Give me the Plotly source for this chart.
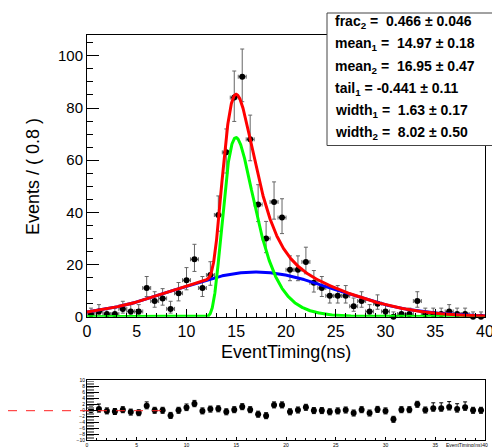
import numpy as np
import plotly.graph_objects as go

# ---------------- data ----------------
bin_width = 0.8
bin_centers = [0.4, 1.2, 2.0, 2.8, 3.6, 4.4, 5.2, 6.0, 6.8, 7.6,
               8.4, 9.2, 10.0, 10.8, 11.6, 12.4, 13.2, 14.0, 14.8, 15.6,
               16.4, 17.2, 18.0, 18.8, 19.6, 20.4, 21.2, 22.0, 22.8, 23.6,
               24.4, 25.2, 26.0, 26.8, 27.6, 28.4, 29.2, 30.0, 30.8, 31.6,
               32.4, 33.2, 34.0, 34.8, 35.6, 36.4, 37.2, 38.0, 38.8, 39.6]
counts = [1, 2, 1, 1, 3, 2, 2, 11, 6, 7,
          3, 9, 14, 22, 11, 16, 39, 63, 84, 92,
          68, 43, 30, 44, 38, 18, 18, 21, 13, 11,
          8, 8, 8, 4, 6, 2, 5, 2, 0, 1,
          1, 6, 1, 1, 1, 2, 1, 1, 0, 0]

pulls = [0.0, 0.3, -0.3, -0.5, 0.1, -0.7, -0.9, 1.4, -0.1, -0.1,
         -1.8, -0.1, 0.8, 2.1, -0.3, 0.3, 0.4, -0.6, 0.1, 1.1,
         0.1, -1.4, -1.9, 1.7, 1.7, -0.6, 0.0, 0.9, -0.2, -0.2,
         -0.6, -0.3, 0.0, -1.0, 0.1, -1.0, 0.2, -0.3, -3.1, 0.1,
         0.1, 1.9, 0.0, 0.6, 0.6, 1.0, 0.3, 0.9, -0.1, -0.1]
pull_err_hi = [1.0, 1.7, 1.0, 1.0, 1.0, 1.0, 1.0, 1.3, 1.0, 1.0,
               1.0, 1.0, 1.2, 1.1, 1.0, 1.0, 1.0, 1.0, 1.0, 1.0,
               1.0, 1.0, 1.0, 1.0, 1.0, 1.0, 1.0, 1.0, 1.0, 1.0,
               1.0, 1.0, 1.0, 1.0, 1.0, 1.0, 1.0, 1.0, 1.0, 1.0,
               1.0, 1.0, 1.0, 1.8, 1.8, 1.8, 1.8, 1.8, 1.0, 1.0]

# fit parameters (as shown in the box)
frac2 = 0.466
mean1 = 14.97
mean2 = 16.95
tail1 = -0.441
width1 = 1.63
width2 = 8.02
n_events = 790          # curve normalisation
param_labels = [
    "frac<sub>2</sub> = &nbsp;0.466 ± 0.046",
    "mean<sub>1</sub> = &nbsp;14.97 ± 0.18",
    "mean<sub>2</sub> = &nbsp;16.95 ± 0.47",
    "tail<sub>1</sub> = -0.441 ± 0.11",
    "width<sub>1</sub> = &nbsp;1.63 ± 0.17",
    "width<sub>2</sub> = &nbsp;8.02 ± 0.50",
]
x_range = [0, 40]
y_range = [0, 108]
pull_range = [-10, 10]

FONT = "Liberation Sans, Arial, Helvetica, sans-serif"
OFF = 8                      # page body margin of the html page
W, H = 500 - OFF, 447 - OFF


def px(x):
    return (x - OFF) / W


def py(y):
    return 1 - (y - OFF) / H


# ---------------- derived ----------------
cnt = np.array(counts, dtype=float)
err_hi = (cnt + 1) * (1 - 1 / (9 * (cnt + 1)) + 1 / (3 * np.sqrt(cnt + 1))) ** 3 - cnt
safe = np.where(cnt > 0, cnt, 1)
err_lo = np.where(cnt > 0,
                  cnt - safe * (1 - 1 / (9 * safe) - 1 / (3 * np.sqrt(safe))) ** 3, 0)


def novosibirsk(x, peak, width, tail):
    xi = 2.3548200450309494
    arg = 1.0 - (x - peak) * tail / width
    out = np.zeros_like(x)
    ok = arg > 1e-7
    w0 = (2.0 / xi) * np.arcsinh(tail * xi * 0.5)
    w02 = w0 * w0
    lg = np.log(arg[ok])
    out[ok] = np.exp(-0.5 / w02 * lg * lg - w02 * 0.5)
    return out


def gauss(x, m, s):
    return np.exp(-0.5 * ((x - m) / s) ** 2)


xc = np.linspace(x_range[0], x_range[1], 2001)
dx = xc[1] - xc[0]
sig_shape = novosibirsk(xc, mean1, width1, tail1)
bkg_shape = gauss(xc, mean2, width2)
sig = n_events * bin_width * frac2 * sig_shape / (sig_shape.sum() * dx)
bkg = n_events * bin_width * (1 - frac2) * bkg_shape / (bkg_shape.sum() * dx)
tot = sig + bkg

# ---------------- figure ----------------
fig = go.Figure()

fig.add_trace(go.Scatter(
    x=bin_centers, y=counts, mode="markers", xaxis="x", yaxis="y",
    marker=dict(color="black", size=6),
    error_y=dict(type="data", symmetric=False, array=list(err_hi), arrayminus=list(err_lo),
                 color="#666666", thickness=1, width=2),
    error_x=dict(type="constant", value=bin_width / 2, color="#666666", thickness=1, width=2),
    cliponaxis=False, hoverinfo="skip"))

fig.add_trace(go.Scatter(x=xc, y=bkg, mode="lines", line=dict(color="#0000ff", width=3),
                         xaxis="x", yaxis="y", hoverinfo="skip"))
fig.add_trace(go.Scatter(x=xc, y=sig, mode="lines", line=dict(color="#00ff00", width=3),
                         xaxis="x", yaxis="y", hoverinfo="skip"))
fig.add_trace(go.Scatter(x=xc, y=tot, mode="lines", line=dict(color="#ff0000", width=3),
                         xaxis="x", yaxis="y", hoverinfo="skip"))

fig.add_trace(go.Scatter(
    x=bin_centers, y=pulls, mode="markers", xaxis="x2", yaxis="y2",
    marker=dict(color="black", size=6),
    error_y=dict(type="data", symmetric=False, array=pull_err_hi, arrayminus=[1.0] * len(pulls),
                 color="black", thickness=1, width=2),
    cliponaxis=False, hoverinfo="skip"))

xdom = [px(87), px(485)]
main_y = [py(316.7), py(35)]
pull_y = [py(440), py(380)]

axis_common = dict(showline=True, linecolor="black", linewidth=1, mirror=True,
                   showgrid=False, zeroline=False, ticks="inside", tickcolor="black",
                   automargin=False)

fig.update_layout(
    width=W, height=H, margin=dict(l=0, r=0, t=0, b=0, autoexpand=False),
    paper_bgcolor="white", plot_bgcolor="white", showlegend=False,
    font=dict(family=FONT, color="black"),
    xaxis=dict(domain=xdom, range=x_range, anchor="y", dtick=5, tick0=0, ticklen=8,
               minor=dict(ticks="inside", dtick=1, ticklen=4, tickcolor="black"),
               tickfont=dict(size=16, family=FONT), **axis_common),
    yaxis=dict(domain=main_y, range=y_range, anchor="x", dtick=20, tick0=0, ticklen=12,
               minor=dict(ticks="inside", dtick=5, ticklen=6, tickcolor="black"),
               tickfont=dict(size=15, family=FONT), **axis_common),
    xaxis2=dict(domain=xdom, range=x_range, anchor="y2", dtick=5, tick0=0, ticklen=3,
                minor=dict(ticks="inside", dtick=1, ticklen=2, tickcolor="black"),
                tickfont=dict(size=5, family=FONT), **axis_common),
    yaxis2=dict(domain=pull_y, range=pull_range, anchor="x2", dtick=2, tick0=0, ticklen=12,
                minor=dict(ticks="inside", dtick=0.5, ticklen=7, tickcolor="#888888"),
                tickfont=dict(size=5, family=FONT), **axis_common),
)

shapes = [
    dict(type="rect", xref="paper", yref="paper", x0=px(327), x1=px(499),
         y0=py(145.5), y1=py(13), line=dict(color="#444444", width=1),
         fillcolor="white", layer="above"),
    dict(type="line", xref="paper", yref="paper", x0=px(8), x1=px(167),
         y0=py(410.7), y1=py(410.7), line=dict(color="#ff2020", width=1, dash="dash"),
         layer="above"),
]
fig.update_layout(shapes=shapes)

ann = []
line_y = [21.7, 44.3, 66.7, 89.3, 111, 132.7]
for txt, yy in zip(param_labels, line_y):
    ann.append(dict(text="<b>" + txt + "</b>", xref="paper", yref="paper", x=px(333), y=py(yy),
                    xanchor="left", yanchor="middle", showarrow=False,
                    font=dict(size=14, family=FONT, color="black")))
ann.append(dict(text="EventTiming(ns)", xref="paper", yref="paper", x=px(286), y=py(352),
                xanchor="center", yanchor="middle", showarrow=False,
                font=dict(size=18, family=FONT, color="black")))
ann.append(dict(text="Events / ( 0.8 )", xref="paper", yref="paper", x=px(33), y=py(177),
                xanchor="center", yanchor="middle", showarrow=False, textangle=-90,
                font=dict(size=18, family=FONT, color="black")))
ann.append(dict(text="EventTiming(ns)", xref="paper", yref="paper", x=px(485), y=py(444.5),
                xanchor="right", yanchor="middle", showarrow=False,
                font=dict(size=5, family=FONT, color="black")))
fig.update_layout(annotations=ann)

fig.write_html("out.html")
